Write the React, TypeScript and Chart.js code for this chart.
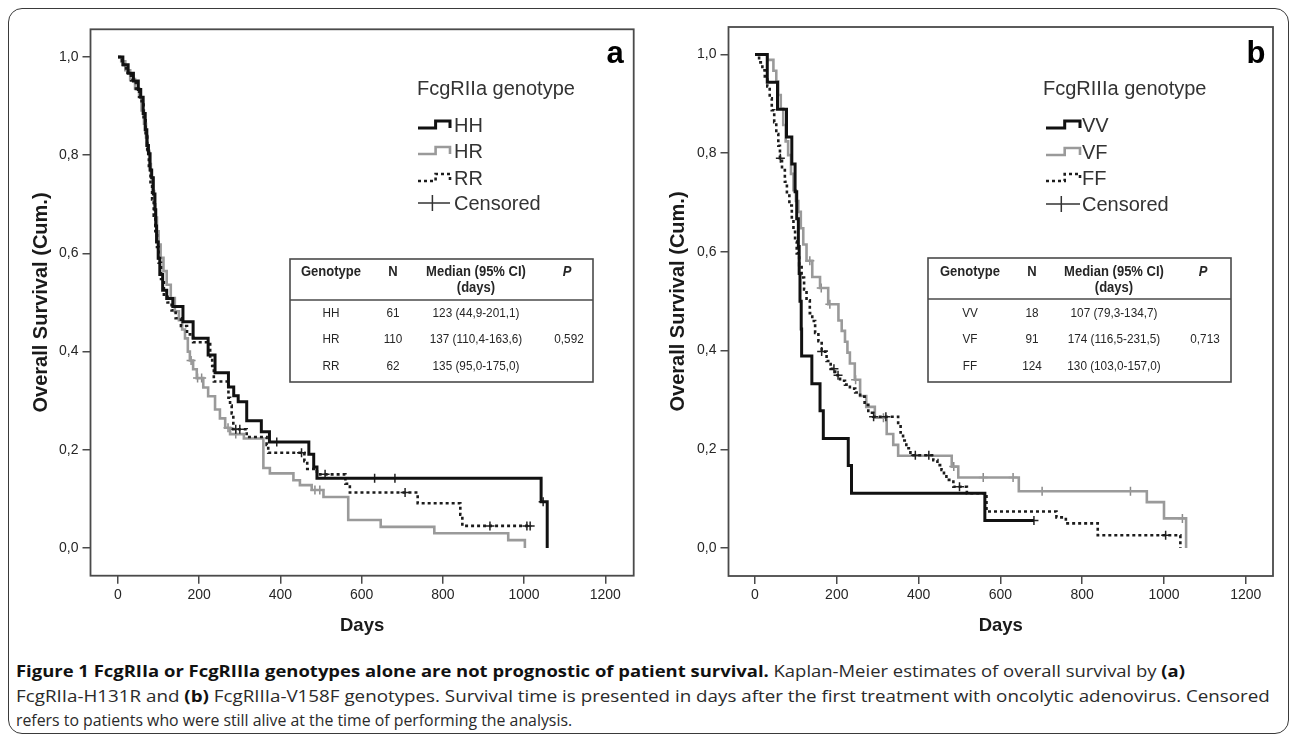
import React, { useEffect, useRef } from 'react';
import { Chart, registerables } from 'chart.js';

Chart.register(...registerables);

// ---------------- data ----------------
const X_TICKS = [0, 200, 400, 600, 800, 1000, 1200];
const X_TICK_LABELS = ['0', '200', '400', '600', '800', '1000', '1200'];
const Y_TICKS = [0, 0.2, 0.4, 0.6, 0.8, 1.0];
const Y_TICK_LABELS = ['0,0', '0,2', '0,4', '0,6', '0,8', '1,0'];

const X_TITLE = 'Days';
const Y_TITLE = 'Overall Survival (Cum.)';
const CENSORED_LABEL = 'Censored';

// Panel a : FcgRIIa
const A_LETTER = 'a';
const A_LEGEND_TITLE = 'FcgRIIa genotype';
const A_GROUPS = ['HH', 'HR', 'RR'];

const HH_DAYS = [0, 12, 25, 38, 50, 56, 62, 67, 71, 75, 79, 83, 87, 91, 93, 95, 99, 103, 110, 120, 135, 160, 185, 222, 239, 272, 285, 296, 317, 353, 373, 470, 482, 490, 1042, 1057];
const HH_SURV = [1, 0.984, 0.967, 0.951, 0.934, 0.918, 0.885, 0.852, 0.82, 0.803, 0.77, 0.754, 0.721, 0.689, 0.656, 0.623, 0.59, 0.557, 0.525, 0.508, 0.492, 0.461, 0.427, 0.393, 0.357, 0.328, 0.31, 0.298, 0.259, 0.237, 0.216, 0.191, 0.165, 0.142, 0.094, 0];
const HH_CENSORED = [391, 632, 682, 1047];

const HR_DAYS = [0, 8, 18, 30, 42, 52, 58, 64, 69, 73, 77, 81, 85, 89, 92, 96, 100, 105, 112, 120, 130, 140, 150, 158, 165, 172, 177, 185, 194, 210, 222, 239, 251, 264, 276, 310, 358, 374, 432, 448, 477, 506, 567, 647, 779, 961, 1002];
const HR_SURV = [1, 0.991, 0.973, 0.955, 0.936, 0.918, 0.891, 0.864, 0.836, 0.809, 0.782, 0.755, 0.727, 0.7, 0.673, 0.645, 0.618, 0.591, 0.564, 0.536, 0.509, 0.482, 0.464, 0.445, 0.427, 0.4, 0.382, 0.364, 0.346, 0.327, 0.309, 0.282, 0.264, 0.245, 0.232, 0.223, 0.163, 0.152, 0.138, 0.128, 0.118, 0.104, 0.057, 0.043, 0.03, 0.016, 0];
const HR_CENSORED = [180, 196, 206, 271, 290, 485, 497];

const RR_DAYS = [0, 10, 20, 32, 44, 52, 58, 63, 68, 72, 76, 80, 84, 88, 92, 96, 100, 106, 113, 122, 132, 142, 155, 170, 185, 227, 232, 236, 272, 276, 280, 284, 317, 366, 370, 459, 466, 490, 560, 571, 738, 843, 848];
const RR_SURV = [1, 0.984, 0.968, 0.952, 0.935, 0.919, 0.903, 0.871, 0.839, 0.806, 0.774, 0.742, 0.71, 0.677, 0.645, 0.613, 0.581, 0.548, 0.516, 0.5, 0.484, 0.468, 0.452, 0.435, 0.419, 0.387, 0.371, 0.339, 0.306, 0.29, 0.274, 0.242, 0.226, 0.21, 0.194, 0.177, 0.161, 0.15, 0.131, 0.113, 0.091, 0.068, 0.045];
const RR_CENSORED = [290, 300, 452, 510, 707, 916, 1007, 1015];

const A_TABLE_N = ['61', '110', '62'];
const A_TABLE_MEDIAN = ['123 (44,9-201,1)', '137 (110,4-163,6)', '135 (95,0-175,0)'];
const A_TABLE_P = '0,592';

// Panel b : FcgRIIIa
const B_LETTER = 'b';
const B_LEGEND_TITLE = 'FcgRIIIa genotype';
const B_GROUPS = ['VV', 'VF', 'FF'];

const VV_DAYS = [0, 30, 55, 77, 90, 98, 102, 106, 108, 110, 113, 114, 139, 159, 167, 228, 236, 562];
const VV_SURV = [1, 0.944, 0.889, 0.833, 0.778, 0.722, 0.667, 0.611, 0.556, 0.5, 0.444, 0.389, 0.333, 0.278, 0.222, 0.167, 0.111, 0.056];
const VV_CENSORED = [682];

const VF_DAYS = [0, 30, 45, 52, 57, 63, 69, 75, 81, 88, 94, 100, 106, 112, 118, 126, 140, 159, 179, 204, 212, 220, 226, 232, 244, 257, 272, 293, 322, 338, 350, 481, 497, 645, 958, 1000, 1054];
const VF_SURV = [1, 0.989, 0.967, 0.945, 0.918, 0.89, 0.857, 0.824, 0.796, 0.758, 0.725, 0.703, 0.681, 0.648, 0.615, 0.582, 0.549, 0.527, 0.494, 0.461, 0.44, 0.418, 0.396, 0.374, 0.341, 0.308, 0.286, 0.264, 0.231, 0.209, 0.187, 0.165, 0.143, 0.115, 0.093, 0.06, 0];
const VF_CENSORED = [134, 162, 183, 246, 314, 486, 558, 631, 702, 918, 1045];

const FF_DAYS = [0, 10, 18, 24, 30, 36, 41, 47, 52, 57, 61, 66, 73, 78, 84, 90, 94, 98, 102, 108, 114, 120, 126, 134, 140, 147, 155, 163, 175, 185, 196, 208, 220, 232, 245, 257, 268, 277, 289, 350, 356, 362, 370, 380, 436, 446, 456, 462, 468, 485, 518, 566, 737, 760, 838, 1040];
const FF_SURV = [1, 0.984, 0.968, 0.952, 0.935, 0.911, 0.887, 0.863, 0.839, 0.815, 0.79, 0.766, 0.742, 0.718, 0.694, 0.67, 0.645, 0.621, 0.597, 0.573, 0.548, 0.524, 0.502, 0.476, 0.46, 0.436, 0.419, 0.398, 0.379, 0.363, 0.35, 0.339, 0.331, 0.323, 0.315, 0.307, 0.29, 0.274, 0.266, 0.25, 0.234, 0.218, 0.202, 0.188, 0.178, 0.168, 0.158, 0.148, 0.138, 0.124, 0.111, 0.074, 0.062, 0.05, 0.026, 0];
const FF_CENSORED = [62, 163, 193, 203, 290, 320, 392, 425, 500, 1004];

const B_TABLE_N = ['18', '91', '124'];
const B_TABLE_MEDIAN = ['107 (79,3-134,7)', '174 (116,5-231,5)', '130 (103,0-157,0)'];
const B_TABLE_P = '0,713';

const TABLE_HEADERS = ['Genotype', 'N', 'Median (95% CI)', '(days)', 'P'];

const CAPTION_BOLD = 'Figure 1 FcgRIIa or FcgRIIIa genotypes alone are not prognostic of patient survival.';
const CAPTION_L1 = ' Kaplan-Meier estimates of overall survival by ';
const CAPTION_A = '(a)';
const CAPTION_L2A = 'FcgRIIa-H131R and ';
const CAPTION_B = '(b)';
const CAPTION_L2B = ' FcgRIIIa-V158F genotypes. Survival time is presented in days after the first treatment with oncolytic adenovirus. Censored';
const CAPTION_L3 = 'refers to patients who were still alive at the time of performing the analysis.';

// ---------------- styles / layout ----------------
const FONT = '"Liberation Sans", Arial, Helvetica, sans-serif';
type LineStyle = { color: string; width: number; dash: number[] };
const STYLE_BLACK: LineStyle = { color: '#111111', width: 3, dash: [] };
const STYLE_GRAY: LineStyle = { color: '#9a9a9a', width: 2.6, dash: [] };
const STYLE_DOTTED: LineStyle = { color: '#1c1c1c', width: 2.6, dash: [3, 3] };
const FRAME_COLOR = '#4a4a4a';
const TEXT_COLOR = '#262626';

type Series = { days: number[]; surv: number[]; censored: number[]; style: LineStyle; label: string };

type PanelSpec = {
  left: number; top: number; width: number; height: number;
  yAxisWidth: number; xAxisHeight: number; padTop: number; padRight: number;
  xMin: number; xMax: number; yMin: number; yMax: number;
  letter: string; letterX: number; letterY: number;
  legendTitle: string; legendTitleX: number; legendTitleY: number;
  glyphX0: number; glyphX1: number; legendTextX: number; legendYs: number[];
  yTitleX: number; xTitleY: number;
  table: {
    left: number; right: number; top: number; sep: number; bottom: number;
    cols: number[]; headY1: number; headY2: number; rows: number[];
    groups: string[]; n: string[]; median: string[]; p: string;
  };
  series: Series[];
};

const PANEL_A: PanelSpec = {
  left: 10, top: 10, width: 630, height: 640,
  yAxisWidth: 80.5, xAxisHeight: 74.3, padTop: 19.3, padRight: 6.3,
  xMin: -67.7, xMax: 1270, yMin: -0.0564, yMax: 1.0564,
  letter: A_LETTER, letterX: 605, letterY: 53,
  legendTitle: A_LEGEND_TITLE, legendTitleX: 407, legendTitleY: 79,
  glyphX0: 408, glyphX1: 440, legendTextX: 444, legendYs: [115, 141, 168, 193],
  yTitleX: 31, xTitleY: 616,
  table: {
    left: 280, right: 583, top: 249, sep: 290, bottom: 372,
    cols: [321, 383, 466, 557], headY1: 262, headY2: 278, rows: [303, 329.5, 356],
    groups: A_GROUPS, n: A_TABLE_N, median: A_TABLE_MEDIAN, p: A_TABLE_P,
  },
  series: [
    { days: HH_DAYS, surv: HH_SURV, censored: HH_CENSORED, style: STYLE_BLACK, label: A_GROUPS[0] },
    { days: HR_DAYS, surv: HR_SURV, censored: HR_CENSORED, style: STYLE_GRAY, label: A_GROUPS[1] },
    { days: RR_DAYS, surv: RR_SURV, censored: RR_CENSORED, style: STYLE_DOTTED, label: A_GROUPS[2] },
  ],
};

const PANEL_B: PanelSpec = {
  left: 650, top: 10, width: 630, height: 640,
  yAxisWidth: 78.5, xAxisHeight: 74, padTop: 17, padRight: 7,
  xMin: -64.8, xMax: 1266.5, yMin: -0.0567, yMax: 1.0557,
  letter: B_LETTER, letterX: 606, letterY: 53,
  legendTitle: B_LEGEND_TITLE, legendTitleX: 393, legendTitleY: 79,
  glyphX0: 396, glyphX1: 430, legendTextX: 432, legendYs: [115, 142, 168, 194],
  yTitleX: 28, xTitleY: 616,
  table: {
    left: 278, right: 581, top: 248, sep: 289, bottom: 372,
    cols: [320, 382, 464, 553], headY1: 262, headY2: 278, rows: [303, 329.5, 356],
    groups: B_GROUPS, n: B_TABLE_N, median: B_TABLE_MEDIAN, p: B_TABLE_P,
  },
  series: [
    { days: VV_DAYS, surv: VV_SURV, censored: VV_CENSORED, style: STYLE_BLACK, label: B_GROUPS[0] },
    { days: VF_DAYS, surv: VF_SURV, censored: VF_CENSORED, style: STYLE_GRAY, label: B_GROUPS[1] },
    { days: FF_DAYS, surv: FF_SURV, censored: FF_CENSORED, style: STYLE_DOTTED, label: B_GROUPS[2] },
  ],
};

// ---------------- helpers ----------------
function survAt(days: number[], surv: number[], t: number): number {
  let v = surv[0];
  for (let i = 0; i < days.length; i++) if (days[i] <= t) v = surv[i];
  return v;
}

function buildDatasets(series: Series[]) {
  const lines = series.map((s) => {
    const pts = s.days.map((d, i) => ({ x: d, y: s.surv[i] }));
    const lastCens = s.censored.length ? Math.max(...s.censored) : -Infinity;
    const lastDay = s.days[s.days.length - 1];
    if (lastCens > lastDay) pts.push({ x: lastCens, y: s.surv[s.surv.length - 1] });
    return {
      type: 'line' as const,
      label: s.label,
      data: pts,
      stepped: 'before' as const,
      borderColor: s.style.color,
      borderWidth: s.style.width,
      borderDash: s.style.dash,
      borderCapStyle: 'butt' as const,
      borderJoinStyle: 'miter' as const,
      pointRadius: 0,
      fill: false,
      tension: 0,
    };
  });
  const marks = series.map((s) => ({
    type: 'line' as const,
    label: s.label + ' censored',
    data: s.censored.map((t) => ({ x: t, y: survAt(s.days, s.surv, t) })),
    showLine: false,
    pointStyle: 'cross' as const,
    pointRadius: 4.5,
    pointBorderWidth: 1.5,
    pointBorderColor: s.style === STYLE_GRAY ? '#8a8a8a' : '#222222',
    pointBackgroundColor: 'transparent',
  }));
  // first dataset is drawn on top
  return [lines[0], marks[0], lines[2], marks[2], lines[1], marks[1]];
}

function drawStepGlyph(ctx: CanvasRenderingContext2D, x0: number, x1: number, cy: number, st: LineStyle) {
  const xm = x0 + (x1 - x0) * 0.55;
  ctx.save();
  ctx.strokeStyle = st.color;
  ctx.lineWidth = st.width;
  ctx.setLineDash(st.dash);
  ctx.lineJoin = 'miter';
  ctx.lineCap = 'butt';
  ctx.beginPath();
  ctx.moveTo(x0, cy + 3);
  ctx.lineTo(xm, cy + 3);
  ctx.lineTo(xm, cy - 4);
  ctx.lineTo(x1, cy - 4);
  ctx.lineTo(x1, cy + 3);
  ctx.stroke();
  ctx.restore();
}

function textScaled(ctx: CanvasRenderingContext2D, s: string, x: number, y: number, sx: number) {
  ctx.save();
  ctx.translate(x, y);
  ctx.scale(sx, 1);
  ctx.fillText(s, 0, 0);
  ctx.restore();
}

function decorPlugin(spec: PanelSpec) {
  return {
    id: 'panelDecor' + spec.letter,
    afterDraw(chart: any) {
      const ctx: CanvasRenderingContext2D = chart.ctx;
      const ca = chart.chartArea;
      ctx.save();
      // frame
      ctx.strokeStyle = FRAME_COLOR;
      ctx.lineWidth = 1.8;
      ctx.strokeRect(ca.left, ca.top, ca.right - ca.left, ca.bottom - ca.top);

      // axis titles
      ctx.fillStyle = '#1a1a1a';
      ctx.textAlign = 'center';
      ctx.textBaseline = 'middle';
      ctx.font = `bold 18.5px ${FONT}`;
      ctx.fillText(X_TITLE, (ca.left + ca.right) / 2, spec.xTitleY);
      ctx.save();
      ctx.translate(spec.yTitleX, (ca.top + ca.bottom) / 2);
      ctx.rotate(-Math.PI / 2);
      ctx.font = `bold 20px ${FONT}`;
      ctx.fillText(Y_TITLE, 0, 0);
      ctx.restore();

      // panel letter
      ctx.font = `bold 31px ${FONT}`;
      ctx.textBaseline = 'alphabetic';
      ctx.fillStyle = '#000';
      ctx.fillText(spec.letter, spec.letterX, spec.letterY);

      // legend
      ctx.fillStyle = '#333';
      ctx.textAlign = 'left';
      ctx.textBaseline = 'middle';
      ctx.font = `20px ${FONT}`;
      ctx.fillText(spec.legendTitle, spec.legendTitleX, spec.legendTitleY);
      spec.series.forEach((s, i) => {
        const cy = spec.legendYs[i];
        drawStepGlyph(ctx, spec.glyphX0, spec.glyphX1, cy, s.style);
        ctx.fillStyle = '#333';
        ctx.fillText(s.label, spec.legendTextX, cy + 1);
      });
      const cyC = spec.legendYs[3];
      ctx.strokeStyle = '#333';
      ctx.lineWidth = 1.5;
      ctx.setLineDash([]);
      ctx.beginPath();
      const xc = spec.glyphX0 + (spec.glyphX1 - spec.glyphX0) * 0.45;
      ctx.moveTo(spec.glyphX0, cyC);
      ctx.lineTo(spec.glyphX1, cyC);
      ctx.moveTo(xc, cyC - 8);
      ctx.lineTo(xc, cyC + 8);
      ctx.stroke();
      ctx.fillText(CENSORED_LABEL, spec.legendTextX, cyC + 1);

      // table
      const tb = spec.table;
      ctx.fillStyle = '#fff';
      ctx.fillRect(tb.left, tb.top, tb.right - tb.left, tb.bottom - tb.top);
      ctx.strokeStyle = FRAME_COLOR;
      ctx.lineWidth = 1.6;
      ctx.strokeRect(tb.left, tb.top, tb.right - tb.left, tb.bottom - tb.top);
      ctx.beginPath();
      ctx.moveTo(tb.left, tb.sep);
      ctx.lineTo(tb.right, tb.sep);
      ctx.stroke();
      ctx.fillStyle = TEXT_COLOR;
      ctx.textAlign = 'center';
      ctx.font = `bold 14px ${FONT}`;
      textScaled(ctx, TABLE_HEADERS[0], tb.cols[0], tb.headY1, 0.93);
      textScaled(ctx, TABLE_HEADERS[1], tb.cols[1], tb.headY1, 0.93);
      textScaled(ctx, TABLE_HEADERS[2], tb.cols[2], tb.headY1, 0.93);
      textScaled(ctx, TABLE_HEADERS[3], tb.cols[2], tb.headY2, 0.93);
      ctx.font = `italic bold 14px ${FONT}`;
      textScaled(ctx, TABLE_HEADERS[4], tb.cols[3], tb.headY1, 0.93);
      ctx.font = `13.5px ${FONT}`;
      tb.groups.forEach((g, i) => {
        const y = tb.rows[i];
        textScaled(ctx, g, tb.cols[0], y, 0.87);
        textScaled(ctx, tb.n[i], tb.cols[1], y, 0.87);
        textScaled(ctx, tb.median[i], tb.cols[2], y, 0.87);
      });
      textScaled(ctx, tb.p, tb.cols[3] + 2, tb.rows[1], 0.87);
      ctx.restore();
    },
  };
}

function makeChart(canvas: HTMLCanvasElement, spec: PanelSpec) {
  const tickFont = { family: FONT, size: 14 };
  return new Chart(canvas, {
    type: 'line',
    data: { datasets: buildDatasets(spec.series) as any },
    options: {
      animation: false,
      responsive: false,
      devicePixelRatio: 1,
      layout: { padding: { top: spec.padTop, right: spec.padRight, left: 0, bottom: 0 } },
      plugins: { legend: { display: false }, tooltip: { enabled: false }, title: { display: false } },
      events: [],
      scales: {
        x: {
          type: 'linear',
          min: spec.xMin,
          max: spec.xMax,
          afterBuildTicks: (s: any) => { s.ticks = X_TICKS.map((v) => ({ value: v })); },
          afterFit: (s: any) => { s.height = spec.xAxisHeight; },
          grid: { display: true, drawOnChartArea: false, drawTicks: true, tickLength: 8, color: FRAME_COLOR, lineWidth: 1.5 },
          border: { display: false },
          ticks: {
            autoSkip: false, maxRotation: 0, padding: 3, color: TEXT_COLOR, font: tickFont,
            callback: (_v: any, i: number) => X_TICK_LABELS[i],
          },
        },
        y: {
          type: 'linear',
          min: spec.yMin,
          max: spec.yMax,
          afterBuildTicks: (s: any) => { s.ticks = Y_TICKS.map((v) => ({ value: v })); },
          afterFit: (s: any) => { s.width = spec.yAxisWidth; },
          grid: { display: true, drawOnChartArea: false, drawTicks: true, tickLength: 8, color: FRAME_COLOR, lineWidth: 1.5 },
          border: { display: false },
          ticks: {
            autoSkip: false, padding: 4, color: TEXT_COLOR, font: tickFont,
            callback: (_v: any, i: number) => Y_TICK_LABELS[i],
          },
        },
      },
    },
    plugins: [decorPlugin(spec)],
  });
}

const CAPTION_WIDTHS = [1169, 1254, 556];
const CAPTION_CENTERS = [671, 695.5, 720];

export default function App() {
  const refA = useRef<HTMLCanvasElement>(null);
  const refB = useRef<HTMLCanvasElement>(null);
  const l1 = useRef<HTMLDivElement>(null);
  const l2 = useRef<HTMLDivElement>(null);
  const l3 = useRef<HTMLDivElement>(null);

  useEffect(() => {
    const a = makeChart(refA.current!, PANEL_A);
    const b = makeChart(refB.current!, PANEL_B);
    return () => { a.destroy(); b.destroy(); };
  }, []);

  useEffect(() => {
    const fit = () => {
      [l1, l2, l3].forEach((r, i) => {
        const el = r.current;
        if (!el) return;
        el.style.transform = 'none';
        const w = el.offsetWidth;
        if (w > 0) el.style.transform = `scaleX(${CAPTION_WIDTHS[i] / w})`;
      });
    };
    fit();
    if ((document as any).fonts?.ready) (document as any).fonts.ready.then(fit);
  }, []);

  const lineStyle = (i: number): React.CSSProperties => ({
    position: 'absolute', left: 16, top: CAPTION_CENTERS[i] - 11, height: 22, lineHeight: '22px',
    whiteSpace: 'nowrap', display: 'inline-block', transformOrigin: 'left center',
  });

  return (
    <div style={{ position: 'absolute', left: 0, top: 0, width: 1290, height: 735, background: '#fff', overflow: 'hidden' }}>
      <div style={{ position: 'absolute', left: 8, top: 8, width: 1281, height: 726, boxSizing: 'border-box', border: '1.5px solid #3a3a3a', borderRadius: 14 }} />
      <canvas ref={refA} width={PANEL_A.width} height={PANEL_A.height} style={{ position: 'absolute', left: PANEL_A.left, top: PANEL_A.top, width: PANEL_A.width, height: PANEL_A.height }} />
      <canvas ref={refB} width={PANEL_B.width} height={PANEL_B.height} style={{ position: 'absolute', left: PANEL_B.left, top: PANEL_B.top, width: PANEL_B.width, height: PANEL_B.height }} />
      <div style={{ fontFamily: '"Open Sans", sans-serif', fontSize: 16.5, color: '#2a2a2a' }}>
        <div ref={l1} style={lineStyle(0)}>
          <b style={{ color: '#111' }}>{CAPTION_BOLD}</b>{CAPTION_L1}<b style={{ color: '#111' }}>{CAPTION_A}</b>
        </div>
        <div ref={l2} style={lineStyle(1)}>
          {CAPTION_L2A}<b style={{ color: '#111' }}>{CAPTION_B}</b>{CAPTION_L2B}
        </div>
        <div ref={l3} style={lineStyle(2)}>{CAPTION_L3}</div>
      </div>
    </div>
  );
}
